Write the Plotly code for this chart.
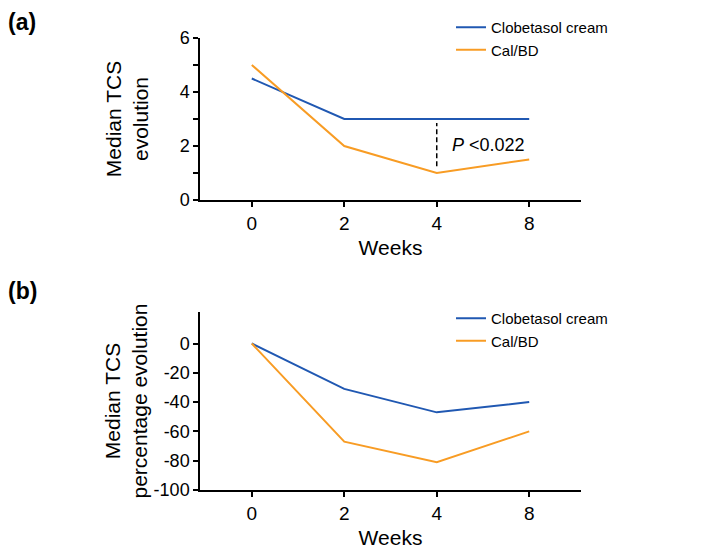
import plotly.graph_objects as go

weeks = ["0", "2", "4", "8"]
series_names = ["Clobetasol cream", "Cal/BD"]
tcs_clobetasol = [4.5, 3.0, 3.0, 3.0]
tcs_calbd = [5.0, 2.0, 1.0, 1.5]
pct_clobetasol = [0, -31, -47, -40]
pct_calbd = [0, -67, -81, -60]
tcs_ticks = [0, 2, 4, 6]
tcs_minor_ticks = [1, 3, 5]
pct_ticks = [0, -20, -40, -60, -80, -100]
pct_ticktext = ["0", "-20", "-40", "-60", "-80", "-100"]
p_week = "4"
p_bracket = [1.25, 2.85]
p_text = "<i>P</i> &lt;0.022"

BLUE = "#2058b2"
ORANGE = "#f89c24"
FONT = "Liberation Sans, Arial, sans-serif"

W, H = 709, 559
OFF = 8  # body margin offset of the page


def fx(px):
    return (px - OFF) / W


def fy(px):
    return 1 - (px - OFF) / H


xdom = [fx(200), fx(581)]

fig = go.Figure()
for vals, name, col in [(tcs_clobetasol, series_names[0], BLUE), (tcs_calbd, series_names[1], ORANGE)]:
    fig.add_trace(go.Scatter(x=weeks, y=vals, mode="lines", name=name,
                             line=dict(color=col, width=2), xaxis="x", yaxis="y", legend="legend"))
for vals, name, col in [(pct_clobetasol, series_names[0], BLUE), (pct_calbd, series_names[1], ORANGE)]:
    fig.add_trace(go.Scatter(x=weeks, y=vals, mode="lines", name=name,
                             line=dict(color=col, width=2), xaxis="x2", yaxis="y2", legend="legend2"))

# significance dashed line
fig.add_trace(go.Scatter(x=[p_week, p_week], y=p_bracket, mode="lines", showlegend=False,
                         line=dict(color="black", width=1.5, dash="5px,3px"), xaxis="x", yaxis="y",
                         hoverinfo="skip"))

axis_common = dict(showline=True, linecolor="black", linewidth=1.5, ticks="outside",
                   ticklen=5, tickwidth=1.5, tickcolor="black", showgrid=False, zeroline=False,
                   automargin=False)
xfont = dict(size=19, color="black", family=FONT)
yfont = dict(size=18, color="black", family=FONT)
title_font = dict(size=21, color="black", family=FONT)
xr = [-0.56, 3.56]
fig.update_layout(
    template="none",
    width=W, height=H, margin=dict(l=0, r=0, t=0, b=0, autoexpand=False),
    paper_bgcolor="white", plot_bgcolor="white",
    font=dict(family=FONT, color="black"),
    xaxis=dict(domain=xdom, anchor="y", type="category", range=xr, tickfont=xfont,
               title=dict(text="Weeks", font=title_font, standoff=8), **axis_common),
    yaxis=dict(domain=[fy(200), fy(38)], anchor="x", range=[0, 6], tickvals=tcs_ticks,
               tickfont=yfont,
               minor=dict(tickvals=tcs_minor_ticks, ticks="outside", ticklen=5, tickwidth=1.5,
                          tickcolor="black", showgrid=False),
               title=dict(text="Median TCS<br>evolution", font=title_font, standoff=25),
               **axis_common),
    xaxis2=dict(domain=xdom, anchor="y2", type="category", range=xr, tickfont=xfont,
                title=dict(text="Weeks", font=title_font, standoff=8), **axis_common),
    yaxis2=dict(domain=[fy(490), fy(312)], anchor="x2", range=[-100, 21.5],
                tickvals=pct_ticks, ticktext=pct_ticktext, tickfont=yfont,
                title=dict(text="Median TCS<br>percentage evolution", font=title_font, standoff=0),
                **axis_common),
    legend=dict(x=fx(451), y=fy(11), xanchor="left", yanchor="top",
                font=dict(size=15, color="black", family=FONT), itemwidth=30, tracegroupgap=0,
                bgcolor="rgba(0,0,0,0)"),
    legend2=dict(x=fx(451), y=fy(302), xanchor="left", yanchor="top",
                 font=dict(size=15, color="black", family=FONT), itemwidth=30, tracegroupgap=0,
                 bgcolor="rgba(0,0,0,0)"),
    showlegend=True,
)

fig.add_annotation(x=weeks.index(p_week), y=sum(p_bracket) / 2, xref="x", yref="y", text=p_text,
                   showarrow=False, xanchor="left", xshift=13, font=dict(size=18, color="black"))
fig.add_annotation(x=fx(6), y=fy(22), xref="paper", yref="paper", text="<b>(a)</b>",
                   showarrow=False, xanchor="left", yanchor="middle", font=dict(size=23, color="black"))
fig.add_annotation(x=fx(6), y=fy(291), xref="paper", yref="paper", text="<b>(b)</b>",
                   showarrow=False, xanchor="left", yanchor="middle", font=dict(size=23, color="black"))

fig.write_html("out.html")
